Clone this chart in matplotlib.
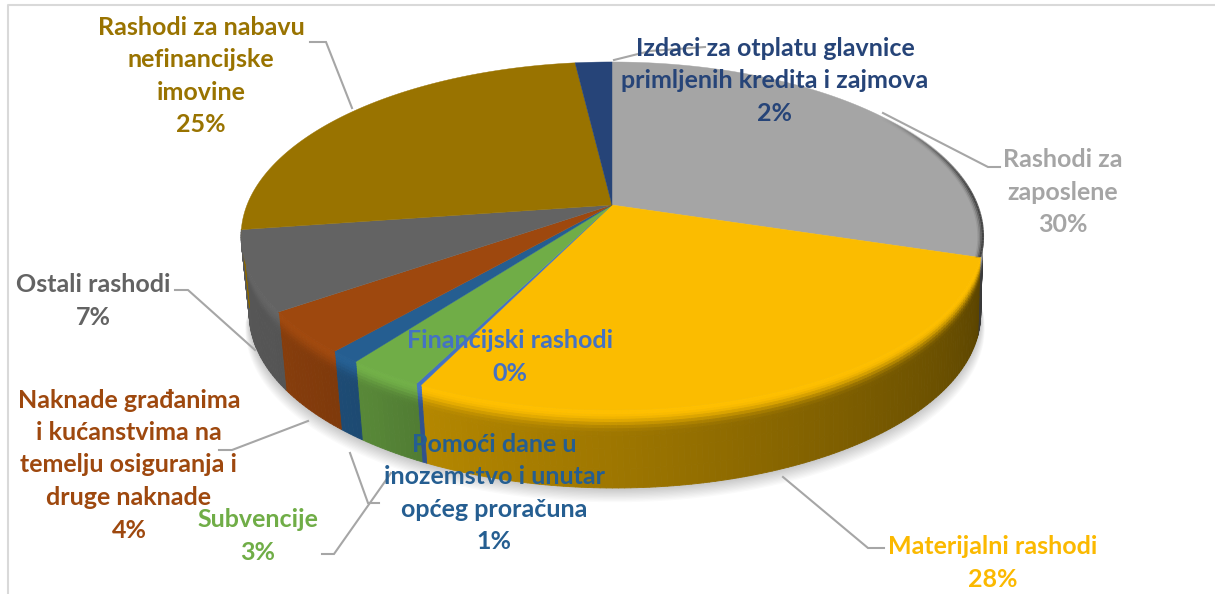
import numpy as np
import matplotlib
matplotlib.use('Agg')
from matplotlib import pyplot as plt
from matplotlib.collections import PolyCollection
from matplotlib.colors import to_rgb

# slices, clockwise from 12 o'clock
names = ['Rashodi za\nzaposlene', 'Materijalni rashodi', 'Financijski rashodi',
         'Subvencije', 'Pomoći dane u\ninozemstvo i unutar\nopćeg proračuna',
         'Naknade građanima\ni kućanstvima na\ntemelju osiguranja i\ndruge naknade',
         'Ostali rashodi', 'Rashodi za nabavu\nnefinancijske\nimovine',
         'Izdaci za otplatu glavnice\nprimljenih kredita i zajmova']
values = [29.8, 27.5, 0.2, 2.85, 1.15, 3.9, 7.4, 25.4, 1.9]
colors = ['#a5a5a5', '#fbbc00', '#4472c4', '#70ad47', '#255e91',
          '#9e480e', '#636363', '#997300', '#264478']
text_colors = ['#a5a5a5', '#fbb900', '#4472c4', '#70ad47', '#255e91',
               '#9e480e', '#636363', '#997300', '#264478']

label_x = [1063, 993, 510, 258, 494, 129, 93, 201, 775]
label_y = [192, 563, 357, 536, 493, 465, 301, 76, 81]

# pie placement in pixels
cx, cy = 612, 205
rx, ry = 365, 168.5
k = 0.178
depth = 78
bottom_scale = 0.986
bottom_shift = 3


def project(theta, drop=0.0):
    # theta in degrees clockwise from the top, drop = 0 top face, 1 bottom face
    t = np.radians(theta)
    u = np.sin(t)
    v = np.cos(t)
    w = 1 + k * v
    s = 1 - (1 - bottom_scale) * drop
    return cx + s * rx * u / w + bottom_shift * drop, cy - ry * v / w + depth * drop


def wall_shade(theta):
    return np.interp(theta, [100, 110, 140, 180, 207, 215, 235, 270],
                     [0.33, 0.37, 0.47, 0.63, 0.72, 0.78, 0.85, 0.9])


plt.rcParams['font.family'] = ['Lato', 'DejaVu Sans']
fig = plt.figure(figsize=(12.15, 5.94), dpi=100)
ax = fig.add_axes([0, 0, 1, 1])
ax.set_xlim(0, 1215)
ax.set_ylim(594, 0)
ax.axis('off')

# border of the chart area
ax.plot([8, 8, 1215], [594, 5, 5], color='#d9d9d9', lw=1.5)

cum = np.concatenate([[0], np.cumsum(values)])
angles = cum / cum[-1] * 360

# soft shadow under the pie
th = np.linspace(95, 262, 200)
for i in range(12):
    sx, sy = project(th, 1.0)
    sx = cx + (sx - cx) * (1 + 0.001 * i)
    sy = sy + i * 1.3
    ax.fill(sx, sy, color='black', alpha=0.02, lw=0, zorder=1)

# side wall, built from small shaded strips
layers = np.array([0, 0.03, 0.06, 0.09, 0.12, 0.16, 0.2, 0.24, 0.28, 0.34, 0.5, 0.75, 1])
polys = []
fc = []
for i in range(len(values)):
    a0 = max(angles[i], 95)
    a1 = min(angles[i + 1], 262)
    if a1 <= a0:
        continue
    n = max(int((a1 - a0) / 0.8), 1)
    edges = np.linspace(a0, a1, n + 1)
    base = np.array(to_rgb(colors[i]))
    for e0, e1 in zip(edges[:-1], edges[1:]):
        f = wall_shade((e0 + e1) / 2)
        for d0, d1 in zip(layers[:-1], layers[1:]):
            m = (d0 + d1) / 2
            b = f + (1.02 - f) * np.exp(-((m / 0.19) ** 3))
            x00, y00 = project(e0, d0)
            x10, y10 = project(e1, d0)
            x11, y11 = project(e1, d1)
            x01, y01 = project(e0, d1)
            polys.append([(x00, y00), (x10, y10), (x11, y11), (x01, y01)])
            fc.append(np.clip(base * b, 0, 1))
ax.add_collection(PolyCollection(polys, facecolors=fc, edgecolors=fc, linewidths=0.6, zorder=2))

# top face
for i in range(len(values)):
    t = np.linspace(angles[i], angles[i + 1], max(int(angles[i + 1] - angles[i]) * 2, 4))
    x, y = project(t)
    ax.fill(np.r_[cx, x], np.r_[cy, y], color=colors[i], ec=colors[i], lw=0.3, zorder=3)

# dark rim on the right side of the top face
for off, a in zip([0, 1.5, 3, 4.5], [0.8, 0.5, 0.25, 0.1]):
    t = np.linspace(55, 107, 60)
    x, y = project(t)
    wt = np.clip((t - 55) / 30, 0, 1)
    for j in range(len(t) - 1):
        ax.plot(x[j:j + 2] - off, y[j:j + 2] + off * 0.2, color='#333333',
                alpha=a * wt[j], lw=1.6, solid_capstyle='butt', zorder=4)

# leader lines
leaders = [
    ([1000, 988, 883], [167, 167, 113]),
    ([884, 868, 783], [548, 548, 477]),
    ([322, 334, 391], [554, 554, 473]),
    ([379, 368, 350], [503, 503, 453]),
    ([219, 232, 308], [450, 450, 421]),
    ([175, 188, 255], [290, 290, 350]),
    ([310, 326, 352], [42, 42, 108]),
    ([705, 650, 614], [47, 51, 60]),
]
for lx, ly in leaders:
    ax.plot(lx, ly, color='#a6a6a6', lw=1.5, zorder=5, solid_joinstyle='miter')

# labels
for i in range(len(names)):
    ax.text(label_x[i], label_y[i], names[i] + '\n%d%%' % round(values[i]),
            color=text_colors[i], fontsize=18, fontweight='bold',
            ha='center', va='center', linespacing=1.5, multialignment='center', zorder=6)

fig.savefig('out.png', dpi=100)
